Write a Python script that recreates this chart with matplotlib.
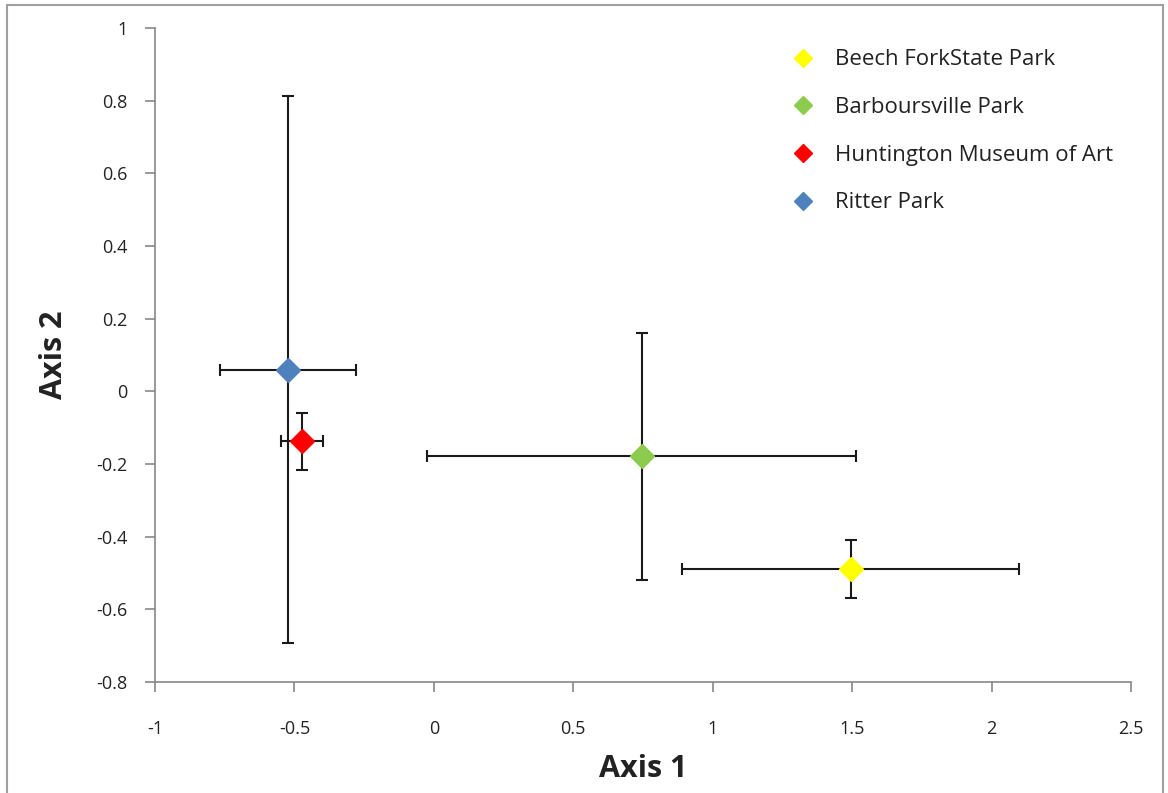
import matplotlib
matplotlib.use("Agg")
import matplotlib.pyplot as plt
from matplotlib.patches import Rectangle

plt.rcParams['font.family'] = ['Open Sans', 'DejaVu Sans']

names = ["Beech ForkState Park", "Barboursville Park", "Huntington Museum of Art", "Ritter Park"]
x_vals = [1.495, 0.745, -0.473, -0.523]
y_vals = [-0.49, -0.179, -0.138, 0.06]
x_err = [0.605, 0.77, 0.075, 0.243]
y_err = [0.08, 0.34, 0.078, 0.752]
colors = ["#FFFF00", "#8CCB4E", "#FF0000", "#4F81BD"]

x_ticks = [-1, -0.5, 0, 0.5, 1, 1.5, 2, 2.5]
x_tick_labels = ["-1", "-0.5", "0", "0.5", "1", "1.5", "2", "2.5"]
y_ticks = [-0.8, -0.6, -0.4, -0.2, 0, 0.2, 0.4, 0.6, 0.8, 1]
y_tick_labels = ["-0.8", "-0.6", "-0.4", "-0.2", "0", "0.2", "0.4", "0.6", "0.8", "1"]

fig = plt.figure(figsize=(11.68, 7.93), dpi=100)
fig.patches.append(Rectangle((7/1168, -0.02), 1156/1168, 1.02 - 5/793, transform=fig.transFigure,
                             fill=False, edgecolor="#A0A0A0", linewidth=1.5))
ax = fig.add_axes([155/1168, 1 - 682/793, (1131 - 155)/1168, (682 - 28)/793])

for i in range(len(names)):
    ax.errorbar(x_vals[i], y_vals[i], xerr=x_err[i], yerr=y_err[i], fmt='none',
                ecolor="#1a1a1a", elinewidth=1.5, capsize=4, capthick=1.5, zorder=2)
for i in range(len(names)):
    ax.plot(x_vals[i], y_vals[i], linestyle='none', marker='D', markersize=12,
            markerfacecolor=colors[i], markeredgecolor=colors[i], label=names[i], zorder=3)

ax.set_xlim(-1, 2.5)
ax.set_ylim(-0.8, 1)
ax.set_xticks(x_ticks)
ax.set_xticklabels(x_tick_labels)
ax.set_yticks(y_ticks)
ax.set_yticklabels(y_tick_labels)
ax.tick_params(direction='out', length=7, width=1.2, color="#888888", labelsize=13,
               labelcolor="#222222")
ax.tick_params(axis='x', pad=20)
ax.tick_params(axis='y', pad=13)
for s in ["top", "right"]:
    ax.spines[s].set_visible(False)
for s in ["left", "bottom"]:
    ax.spines[s].set_color("#888888")
    ax.spines[s].set_linewidth(1.2)

ax.set_xlabel("Axis 1", fontsize=22, fontweight='bold', color="#222222", labelpad=12)
ax.set_ylabel("Axis 2", fontsize=22, fontweight='bold', color="#222222", labelpad=19)

leg = ax.legend(loc='upper left', bbox_to_anchor=(0.633, 0.998), frameon=False, fontsize=16,
                markerscale=0.75, handlelength=0.9, handletextpad=1.0, labelspacing=1.2,
                labelcolor="#222222")

fig.savefig("out.png", dpi=100)
